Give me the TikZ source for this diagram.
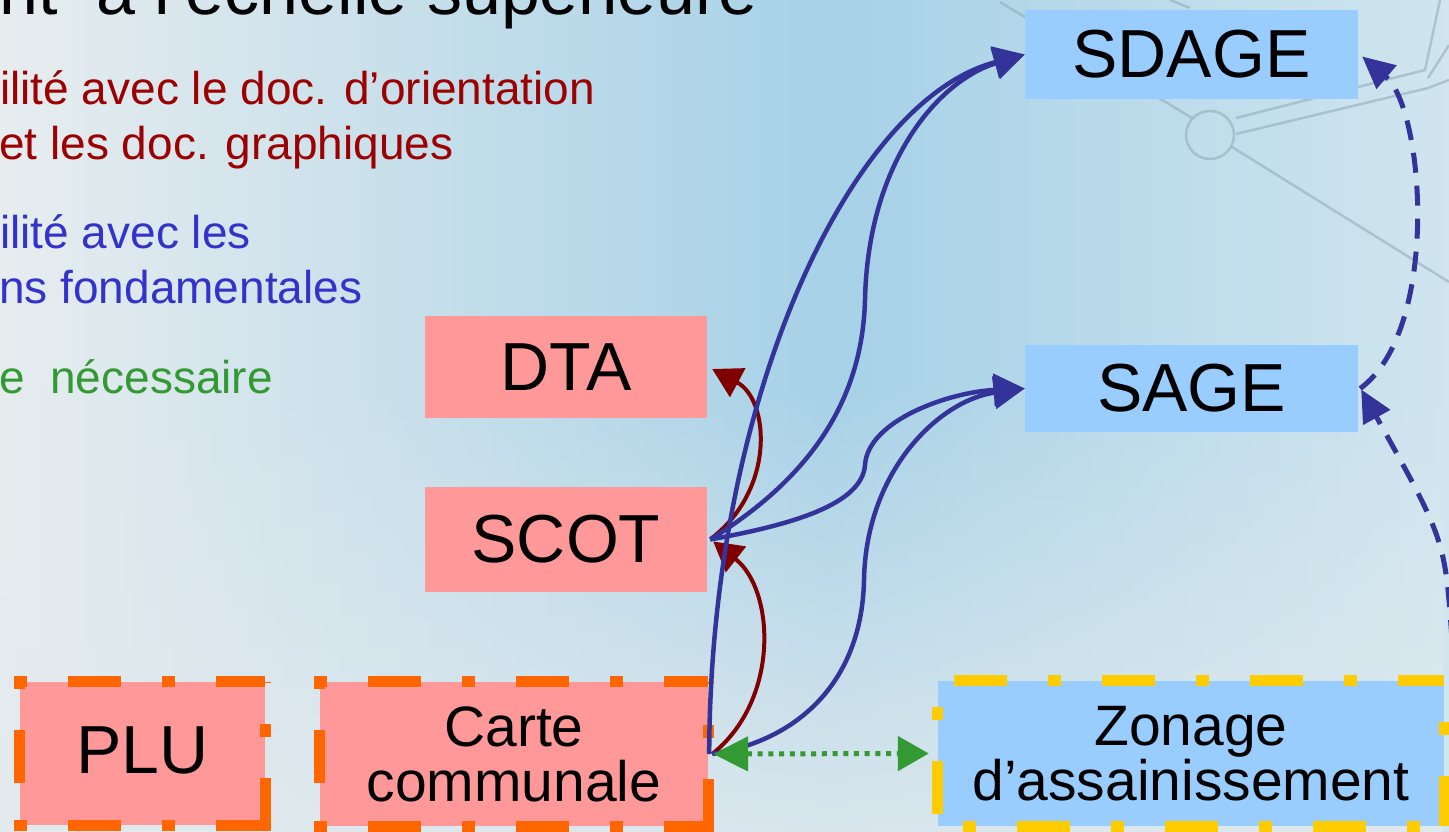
\documentclass[tikz,border=0pt]{standalone}
\usepackage{fontspec}
\setmainfont{Liberation Sans}
\usetikzlibrary{arrows.meta,fadings}
\definecolor{bgL}{HTML}{E7EDEF}
\definecolor{bgM}{HTML}{A6D1E7}
\definecolor{bgR}{HTML}{D0E5EE}
\definecolor{bgB}{HTML}{E2EAEE}
\definecolor{boxpink}{HTML}{FF9999}
\definecolor{boxblue}{HTML}{99CCFF}
\definecolor{bordorange}{HTML}{FF6600}
\definecolor{bordyellow}{HTML}{FFCC00}
\definecolor{arrowblue}{HTML}{333399}
\definecolor{arrowred}{HTML}{800000}
\definecolor{arrowgreen}{HTML}{339933}
\definecolor{textred}{HTML}{9C0000}
\definecolor{textblue}{HTML}{3333CC}
\definecolor{textgreen}{HTML}{339933}
\definecolor{mapgray}{HTML}{8FA9B6}
\tikzfading[name=fadeup, top color=transparent!100, bottom color=transparent!15]
\begin{document}
\begin{tikzpicture}[x=1pt,y=-1pt,
  bigfont/.style={font=\fontsize{68}{70}\selectfont},
  midfont/.style={font=\fontsize{57}{55}\selectfont},
  pinkbox/.style={fill=boxpink, inner sep=0pt},
  bluebox/.style={fill=boxblue, inner sep=0pt},
  sidetext/.style={anchor=base west, inner sep=0pt, font=\fontsize{46}{55}\selectfont},
  orangeside/.style={draw=bordorange, line width=11pt, line cap=butt},
  yellowside/.style={draw=bordyellow, line width=11pt, line cap=butt},
  patA/.style={dash pattern=on 13pt off 41pt on 53pt off 41pt},
  patB/.style={dash pattern=on 53pt off 41pt on 13pt off 41pt},
  mapline/.style={draw=mapgray, line width=2.5pt, opacity=0.55},
  bluearrow/.style={draw=arrowblue, line width=4.5pt, -{Triangle[length=31pt,width=32pt]}},
  redarrow/.style={draw=arrowred, line width=4pt, -{Triangle[length=29pt,width=32pt]}},
  greenarrow/.style={draw=arrowgreen, line width=5pt, dash pattern=on 5pt off 5.7pt,
     {Triangle[length=35pt,width=34pt]}-{Triangle[length=31pt,width=34pt]}},
  dashblue/.style={draw=arrowblue, line width=5pt, dash pattern=on 20pt off 13pt,
     -{Triangle[length=32pt,width=30pt]}}
]
\useasboundingbox (0,0) rectangle (1449,832);
% background
\shade[left color=bgL, right color=bgM] (0,0) rectangle (830,832);
\shade[left color=bgM, right color=bgR] (830,0) rectangle (1449,832);
\fill[bgB, path fading=fadeup] (0,380) rectangle (1449,832);
% faint map lines
\draw[mapline] (1000,2) -- (1192,118);
\draw[mapline] (1210,135) circle (24);
\draw[mapline] (1236,118) -- (1425,70) -- (1440,0);
\draw[mapline] (1236,134) -- (1428,88) -- (1449,80);
\draw[mapline] (1428,78) -- (1449,45);
\draw[mapline] (1232,147) -- (1449,282);
\draw[mapline] (1170,0) -- (1190,8);

% title and side texts
\node[anchor=base west, inner sep=0pt, font=\fontsize{70}{72}\selectfont] (title) at (-1,15) {nt\ \ à l’échelle supérieure};
\node[sidetext, text=textred] (red1) at (0,105) {ilité avec le doc. d’orientation};
\node[sidetext, text=textred] (red2) at (-1,160) {et les doc. graphiques};
\node[sidetext, text=textblue] (blue1) at (0,248) {ilité avec les};
\node[sidetext, text=textblue] (blue2) at (-1,303) {ns fondamentales};
\node[sidetext, text=textgreen] (green1) at (-1,393) {e\ \ nécessaire};

% boxes
\node[pinkbox, bigfont, minimum width=282pt, minimum height=102pt] (dta) at (566,367) {DTA};
\node[pinkbox, bigfont, minimum width=282pt, minimum height=105pt] (scot) at (566,539.5) {SCOT};
\node[bluebox, bigfont, minimum width=333pt, minimum height=89pt] (sdage) at (1191.5,54.5) {SDAGE};
\node[bluebox, bigfont, minimum width=333pt, minimum height=87pt] (sage) at (1191.5,388.5) {SAGE};
\node[pinkbox, bigfont, minimum width=245pt, minimum height=143pt] (plu) at (142.5,753.5) {\raisebox{6pt}{PLU}};
\node[pinkbox, midfont, align=center, minimum width=388pt, minimum height=144pt] (carte) at (514,754) {Carte\\communale};
\node[bluebox, midfont, align=center, minimum width=506pt, minimum height=145pt] (zonage) at (1191,753.5) {Zonage\\d’assainissement};

% dashed borders
\draw[orangeside, patA] ([xshift=-5.5pt]plu.north west) -- (plu.north east);
\draw[orangeside, patA] ([yshift=5.5pt]plu.north west) -- (plu.south west);
\draw[orangeside, patA] ([xshift=-5.5pt]plu.south west) -- (plu.south east);
\draw[orangeside, patB] ([yshift=-5.5pt]plu.south east) -- (plu.north east);
\draw[orangeside, patA] ([xshift=-5.5pt]carte.north west) -- (carte.north east);
\draw[orangeside, patA] ([yshift=5.5pt]carte.north west) -- (carte.south west);
\draw[orangeside, patA] ([xshift=-5.5pt]carte.south west) -- (carte.south east);
\draw[orangeside, patB] ([yshift=-5.5pt]carte.south east) -- (carte.north east);
\draw[yellowside, patB, dash phase=132pt] (zonage.north west) -- (zonage.north east);
\draw[yellowside, patA, dash phase=123pt] (zonage.south west) -- (zonage.south east);
\draw[yellowside, patA, dash phase=122pt] (zonage.north west) -- (zonage.south west);
\draw[yellowside, patA, dash phase=107pt] (zonage.north east) -- (zonage.south east);

% red arrows
\draw[redarrow] ([xshift=4pt]carte.east) .. controls (780,700) and (775,590) .. ([xshift=6pt,yshift=-2pt]scot.east);
\draw[redarrow] ([xshift=4pt,yshift=1pt]scot.east) .. controls (775,490) and (770,400) .. ([xshift=5pt,yshift=-2pt]dta.east);

% blue arrows
\draw[bluearrow] ([xshift=1pt]carte.east) .. controls (710,400) and (850,100) .. (sdage.west);
\draw[bluearrow] ([xshift=3pt]scot.east) .. controls (800,484) and (862,410) .. (865,300)
   .. controls (868,160) and (940,80) .. (sdage.west);
\draw[bluearrow] ([xshift=3pt]scot.east) .. controls (790,525) and (862,505) .. (865,465)
   .. controls (868,420) and (950,392) .. (sage.west);
\draw[bluearrow] ([xshift=4pt]carte.east) .. controls (800,740) and (862,680) .. (864,580)
   .. controls (866,470) and (940,400) .. (sage.west);

% dashed blue arrows
\draw[dashblue] ([xshift=2pt]sage.east) .. controls (1440,330) and (1425,110) .. ([xshift=4pt,yshift=-2pt]sdage.east);
\coordinate (offright) at (1452,640);
\draw[dashblue] (offright) .. controls (1445,540) .. ([xshift=3pt,yshift=-1pt]sage.east);

% green dotted double arrow
\draw[greenarrow] ([xshift=5pt]carte.east) -- ([xshift=-9pt]zonage.west);
\end{tikzpicture}
\end{document}
